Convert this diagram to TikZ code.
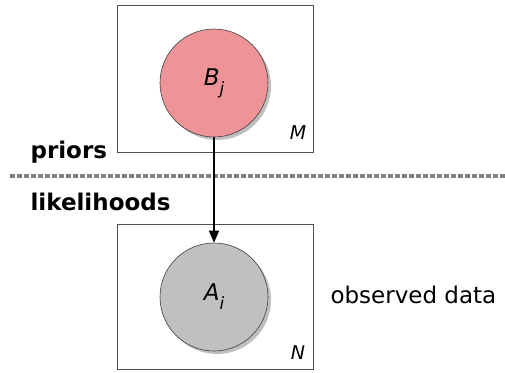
\documentclass[tikz,border=0pt]{standalone}
\usepackage{fontspec}
\setmainfont{DejaVu Sans}
\usetikzlibrary{shadows,arrows.meta}
\definecolor{pinkfill}{RGB}{238,148,152}
\definecolor{grayfill}{RGB}{192,192,192}
\definecolor{boxline}{RGB}{80,80,80}
\definecolor{dashgray}{RGB}{128,128,128}
\tikzset{
  plate/.style={draw=boxline, line width=0.9pt, fill=white},
  varnode/.style={circle, draw=black!75, line width=0.6pt, minimum size=108pt, inner sep=0pt,
    font=\fontsize{23}{25}\selectfont\itshape,
    drop shadow={opacity=0.5, shadow xshift=3pt, shadow yshift=-3pt}},
  platelabel/.style={font=\fontsize{19}{21}\selectfont\itshape, anchor=base},
  sectlabel/.style={font=\fontsize{23}{25}\selectfont\bfseries, anchor=base west},
}
\begin{document}
\begin{tikzpicture}[x=1pt,y=-1pt]
\useasboundingbox (0,0) rectangle (505,372);
\draw[plate] (117,5) rectangle (313,152);
\draw[plate] (117,224) rectangle (313,369);
\node[varnode, fill=pinkfill] (B) at (214,83) {B\raisebox{-0.4em}{\fontsize{17}{19}\selectfont j}};
\node[varnode, fill=grayfill] (A) at (214,297) {A\raisebox{-0.4em}{\fontsize{17}{19}\selectfont i}};
\node[platelabel] (M) at (298,139) {M};
\node[platelabel] (N) at (298,359) {N};
\node[sectlabel] (pri) at (27,158) {priors};
\node[sectlabel] (lik) at (27,210) {likelihoods};
\node[font=\fontsize{23}{25}\selectfont, anchor=base west] (obs) at (327,303) {observed data};
\coordinate (dl) at (10,176);
\coordinate (dr) at (505,176);
\draw[dashgray, line width=4pt, dash pattern=on 5pt off 2pt] (dl) -- (dr);
\draw[line width=1.6pt, -{Triangle[length=12pt,width=10pt]}] (B) -- (A);
\end{tikzpicture}
\end{document}
